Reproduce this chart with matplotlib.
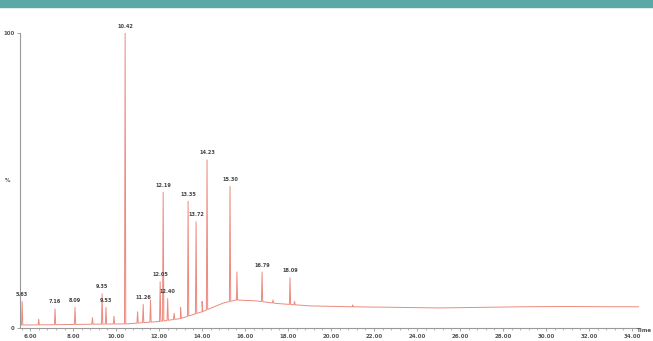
import matplotlib
matplotlib.use("Agg")
import matplotlib.pyplot as plt
from matplotlib.patches import Rectangle

# baseline knots (time, %)
base_t = [5.5, 7.0, 9.0, 10.5, 12.0, 13.0, 14.0, 15.0, 15.6, 16.5, 17.5, 19.0, 21.0, 23.0, 25.0, 27.0, 29.0, 31.0, 33.0, 34.3]
base_y = [1.0, 1.1, 1.3, 1.4, 2.2, 3.2, 5.5, 8.5, 9.5, 9.2, 8.3, 7.5, 7.2, 7.0, 6.8, 7.0, 7.2, 7.3, 7.2, 7.2]

# labelled peaks: retention time, apex height (%)
peak_t = [5.63, 7.16, 8.09, 9.35, 9.53, 10.42, 11.26, 12.05, 12.19, 12.40, 13.35, 13.72, 14.23, 15.30, 16.79, 18.09]
peak_h = [9.0, 6.5, 7.0, 11.6, 7.0, 100.0, 8.0, 15.7, 46.0, 10.0, 43.0, 36.0, 57.0, 48.0, 19.0, 17.0]
peak_lbl = ["5.63", "7.16", "8.09", "9.35", "9.53", "10.42", "11.26", "12.05", "12.19", "12.40",
            "13.35", "13.72", "14.23", "15.30", "16.79", "18.09"]

# unlabelled minor peaks
minor_t = [6.4, 8.9, 9.9, 11.0, 11.6, 12.7, 13.0, 14.0, 15.62, 17.3, 18.3, 21.0]
minor_h = [3.0, 3.5, 4.0, 5.5, 9.5, 5.0, 7.0, 9.0, 19.0, 9.5, 9.0, 7.8]

x_ticks = [6, 8, 10, 12, 14, 16, 18, 20, 22, 24, 26, 28, 30, 32, 34]


def base_at(t):
    for i in range(len(base_t) - 1):
        if base_t[i] <= t <= base_t[i + 1]:
            f = (t - base_t[i]) / (base_t[i + 1] - base_t[i])
            return base_y[i] + f * (base_y[i + 1] - base_y[i])
    return base_y[-1]


# assemble trace points
pts = [(t, y) for t, y in zip(base_t, base_y)]
for t, h in list(zip(peak_t, peak_h)) + list(zip(minor_t, minor_h)):
    w = 0.03
    pts += [(t - w, base_at(t - w)), (t, h), (t + w, base_at(t + w))]
pts.sort()
tx = [p[0] for p in pts]
ty = [p[1] for p in pts]

XMIN, XMAX = 5.53, 34.37

fig = plt.figure(figsize=(6.53, 3.41), dpi=100)
fig.patches.append(Rectangle((0, 1 - 7 / 341), 1, 7 / 341, transform=fig.transFigure,
                             color="#5ba9a7", zorder=0))

ax = fig.add_axes([20 / 653, 13 / 341, 620 / 653, 295 / 341])
ax.plot(tx, ty, color="#ec8a7e", lw=0.7)

for t, h, l in zip(peak_t, peak_h, peak_lbl):
    ax.text(t, h + 1.5, l, ha="center", va="bottom", fontsize=3.6, color="#444444",
            fontweight="bold")

for s in ["top", "right"]:
    ax.spines[s].set_visible(False)
for s in ["left", "bottom"]:
    ax.spines[s].set_color("#999999")
    ax.spines[s].set_linewidth(0.8)

ax.set_xticks(x_ticks)
ax.set_xticklabels([f"{v:.2f}" for v in x_ticks], fontsize=4, color="#555555", fontweight="bold")
minor = [t + 0.4 * k for t in [4] + x_ticks for k in range(1, 5)]
ax.set_xticks([m for m in minor if XMIN <= m <= XMAX], minor=True)
ax.tick_params(axis="x", which="major", length=2.5, width=0.6, color="#999999", pad=2)
ax.tick_params(axis="x", which="minor", length=1.5, width=0.5, color="#999999")
ax.set_yticks([0, 100])
ax.set_yticklabels(["0", "100"], fontsize=4, color="#555555", fontweight="bold")
ax.tick_params(axis="y", length=2, width=0.6, color="#999999", pad=2)
ax.set_xlim(XMIN, XMAX)
ax.set_ylim(0, 100)
ax.text(-0.02, 0.5, "%", transform=ax.transAxes, fontsize=4, color="#555555",
        ha="center", va="center", fontweight="bold")
fig.text(0.999, 1 - 330 / 341, "Time", fontsize=4, color="#555555",
         ha="right", va="center", fontweight="bold")

fig.savefig("out.png", dpi=100)
